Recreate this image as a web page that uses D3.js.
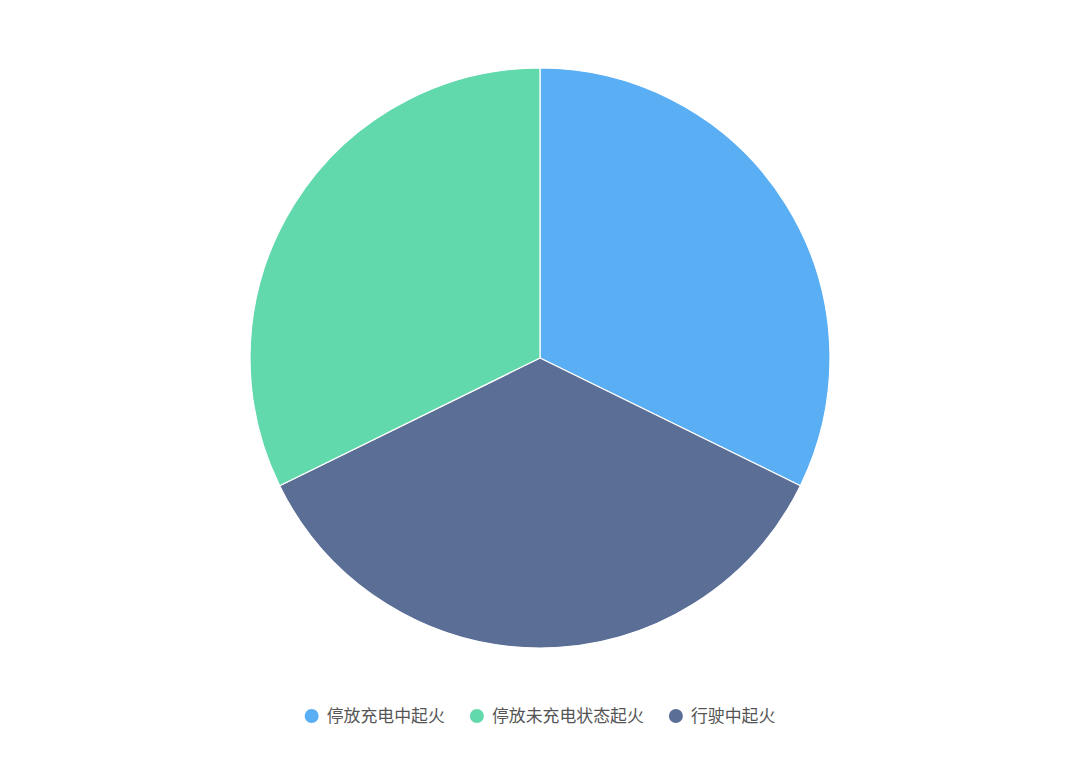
<!DOCTYPE html>
<html>
<head>
<meta charset="utf-8">
<script src="https://cdn.jsdelivr.net/npm/d3@7"></script>
<style>
  html, body { margin: 0; padding: 0; background: #fff; }
  svg { display: block; }
</style>
</head>
<body>
<svg id="chart" width="1080" height="759"></svg>
<script>
// Data (legend order)
const categories = ["停放充电中起火", "停放未充电状态起火", "行驶中起火"];
const values = [10, 10, 11];
const colors = ["#5aaef4", "#62d9ad", "#5b6e96"];
// Clockwise drawing order from 12 o'clock
const drawOrder = [0, 2, 1];

const width = 1080, height = 759;
const cx = 540, cy = 358, radius = 290;

const svg = d3.select("#chart");

const data = drawOrder.map(i => ({ name: categories[i], value: values[i], color: colors[i] }));

const pie = d3.pie().sort(null).value(d => d.value);
const arc = d3.arc().innerRadius(0).outerRadius(radius);

const g = svg.append("g").attr("transform", `translate(${cx},${cy})`);
g.selectAll("path")
  .data(pie(data))
  .join("path")
  .attr("d", arc)
  .attr("fill", d => d.data.color)
  .attr("stroke", "#fff")
  .attr("stroke-width", 1.2)
  .attr("stroke-linejoin", "round");

// Legend
const fontSize = 16.9;
const legendY = 716;
const iconR = 7, textOffset = 15, itemGap = 32;
const legend = svg.append("g");
let x = 0;
const items = categories.map((c, i) => ({ name: c, color: colors[i] }));
const itemsG = legend.selectAll("g").data(items).join("g");
itemsG.append("circle").attr("r", iconR).attr("cy", 0).attr("fill", d => d.color);
itemsG.append("text")
  .attr("x", textOffset)
  .attr("dy", "0.35em")
  .attr("font-family", "'Noto Sans CJK SC', sans-serif")
  .attr("font-size", fontSize)
  .attr("fill", "#555")
  .text(d => d.name);
itemsG.each(function () {
  const tw = d3.select(this).select("text").node().getComputedTextLength();
  d3.select(this).attr("transform", `translate(${x},${legendY})`);
  x += textOffset + tw + itemGap;
});
const totalW = x - itemGap + iconR;
legend.attr("transform", `translate(${cx - totalW / 2 + iconR},0)`);
</script>
</body>
</html>
